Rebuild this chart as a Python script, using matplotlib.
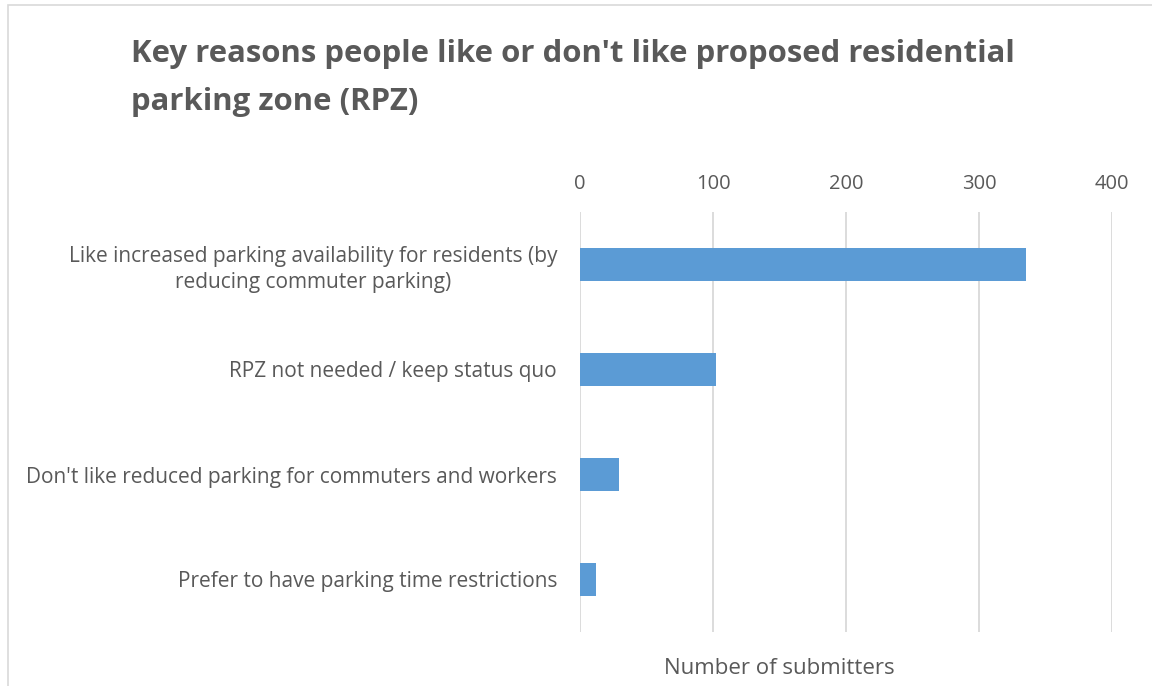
import matplotlib
matplotlib.use("Agg")
import matplotlib.pyplot as plt
from matplotlib.patches import Rectangle

categories = [
    "Like increased parking availability for residents (by\nreducing commuter parking)",
    "RPZ not needed / keep status quo",
    "Don't like reduced parking for commuters and workers",
    "Prefer to have parking time restrictions",
]
values = [335, 102, 29, 12]
xticks = [0, 100, 200, 300, 400]
title = "Key reasons people like or don't like proposed residential\nparking zone (RPZ)"
xlabel = "Number of submitters"

plt.rcParams['font.family'] = ['Open Sans', 'DejaVu Sans']
grey = '#595959'

fig = plt.figure(figsize=(11.52, 6.86), dpi=100)
W, H = 1152, 686
ax = fig.add_axes([580 / W, 1 - 632 / H, (1112 - 580) / W, (632 - 212) / H])

ypos = list(range(len(categories)))
ax.barh(ypos, values, height=0.31, color='#5B9BD5', zorder=3)
ax.set_ylim(len(categories) - 0.5, -0.5)
ax.set_xlim(0, 400)
ax.set_xticks(xticks)
ax.xaxis.tick_top()
ax.tick_params(axis='x', length=0, pad=13, labelsize=14.5, colors=grey)
ax.set_yticks(ypos)
ax.set_yticklabels(categories, fontsize=15, color=grey, linespacing=1.3)
for lbl in ax.get_yticklabels():
    lbl.set_horizontalalignment('right')
    lbl.set_multialignment('center')
ax.tick_params(axis='y', length=0, pad=16.5)
ax.grid(axis='x', color='#D9D9D9', linewidth=1.3, zorder=0)
for s in ax.spines.values():
    s.set_visible(False)

fig.text(779 / W, 1 - 669 / H, xlabel, ha='center', va='center', fontsize=16, color=grey)
fig.text(131 / W, 1 - 78 / H, title, ha='left', va='center', fontsize=22.4,
         fontweight='bold', color=grey, linespacing=1.75)

fig.patches.append(Rectangle((8 / W, -0.01), 1.0, 1 - 5 / H + 0.01, transform=fig.transFigure,
                             fill=False, edgecolor='#D9D9D9', linewidth=1.2))

fig.savefig('out.png', dpi=100, facecolor='white')
